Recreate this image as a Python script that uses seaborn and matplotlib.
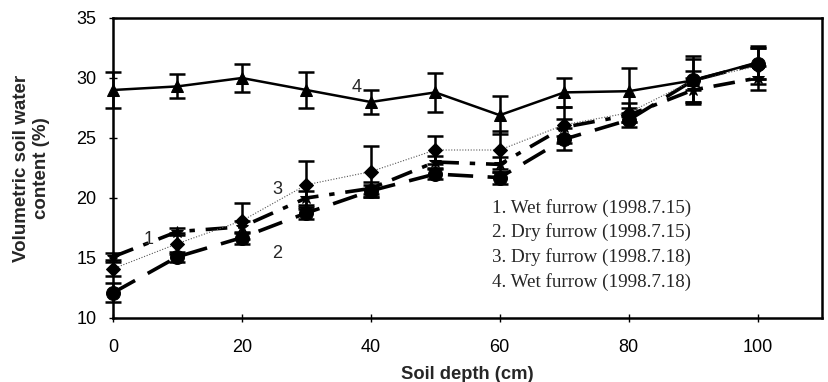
import matplotlib
matplotlib.use("Agg")
import matplotlib.pyplot as plt
import seaborn as sns
import pandas as pd
import numpy as np

depth = [0, 10, 20, 30, 40, 50, 60, 70, 80, 90, 100]

wet_0715 = [15.1, 17.2, 17.6, 20.0, 20.8, 23.0, 22.8, 25.9, 26.9, 29.0, 30.0]
wet_0715_err = [0.3, 0.3, 0.5, 0.6, 0.5, 0.5, 0.6, 0.7, 0.6, 1.0, 1.0]

dry_0715 = [12.1, 15.1, 16.7, 18.75, 20.6, 22.0, 21.7, 24.9, 26.5, 29.8, 31.2]
dry_0715_err = [0.8, 0.4, 0.5, 0.5, 0.5, 0.4, 0.5, 0.9, 0.6, 0.8, 1.3]

dry_0718 = [14.1, 16.2, 18.1, 21.1, 22.2, 24.0, 24.0, 26.1, 27.1, 29.8, 31.0]
dry_0718_err = [0.6, 0.9, 1.5, 2.0, 2.1, 1.2, 1.6, 1.5, 0.8, 1.8, 1.5]

wet_0718 = [29.0, 29.3, 30.0, 29.0, 28.0, 28.8, 26.9, 28.8, 28.9, 29.8, 31.3]
wet_0718_err = [1.5, 1.0, 1.2, 1.5, 1.0, 1.6, 1.6, 1.2, 1.9, 2.0, 1.4]

legend_lines = ["1. Wet furrow (1998.7.15)",
                "2. Dry furrow (1998.7.15)",
                "3. Dry furrow (1998.7.18)",
                "4. Wet furrow (1998.7.18)"]

sns.set_theme(style="ticks")
plt.rcParams['font.family'] = ['Liberation Sans', 'DejaVu Sans']

fig = plt.figure(figsize=(8.29, 3.82), dpi=100)
ax = fig.add_axes([113/829, 1 - 318/382, (822 - 113)/829, (318 - 18)/382])

series = [
    (wet_0715, wet_0715_err, dict(color="black", lw=2.6, dashes=(6, 3, 1.5, 3), marker="*", ms=9)),
    (dry_0715, dry_0715_err, dict(color="black", lw=2.6, dashes=(7, 4), marker="o", ms=10)),
    (dry_0718, dry_0718_err, dict(color="#555555", lw=0.8, dashes=(1, 1.5), marker="D", ms=7)),
    (wet_0718, wet_0718_err, dict(color="black", lw=1.8, dashes=(None, None), marker="^", ms=9)),
]

for vals, err, st in series:
    eb = ax.errorbar(depth, vals, yerr=err, fmt="none", ecolor="black",
                     elinewidth=1.8, capsize=6, capthick=1.8, zorder=2)
    for art in eb.lines[1] + eb.lines[2]:
        art.set_clip_on(False)

for vals, err, st in series:
    df = pd.DataFrame({"depth": depth, "val": vals})
    kw = dict(color=st["color"], lw=st["lw"], marker=st["marker"],
              markersize=st["ms"], markerfacecolor="black",
              markeredgecolor="black", zorder=3, clip_on=False)
    if st["dashes"][0] is not None:
        kw["dashes"] = st["dashes"]
    sns.lineplot(data=df, x="depth", y="val", ax=ax, **kw)

ax.set_xlim(0, 110)
ax.set_ylim(10, 35)
ax.set_xticks([0, 20, 40, 60, 80, 100])
ax.set_yticks([10, 15, 20, 25, 30, 35])
ax.tick_params(direction="inout", length=6, width=1, labelsize=13, colors="black")
ax.tick_params(axis="x", pad=12)
ax.tick_params(axis="y", pad=9)
for s in ax.spines.values():
    s.set_visible(True)
    s.set_linewidth(1.8)
    s.set_color("black")

ax.set_xlabel("Soil depth (cm)", fontsize=13.2, fontweight="bold", labelpad=7)
ax.set_ylabel("Volumetric soil water\ncontent (%)", fontsize=13.5,
              fontweight="bold", labelpad=19, linespacing=1.25)

ax.text(5.6, 16.5, "1", fontsize=13, ha="center", va="center")
ax.text(25.5, 15.4, "2", fontsize=13, ha="center", va="center")
ax.text(25.5, 20.7, "3", fontsize=13, ha="center", va="center")
ax.text(37.8, 29.2, "4", fontsize=13, ha="center", va="center")

for i, line in enumerate(legend_lines):
    ax.text(58.8, 19.2 - i * 2.06, line, fontsize=13.7,
            family=["Liberation Serif", "DejaVu Serif"], ha="left", va="center")

fig.savefig("out.png", dpi=100)
